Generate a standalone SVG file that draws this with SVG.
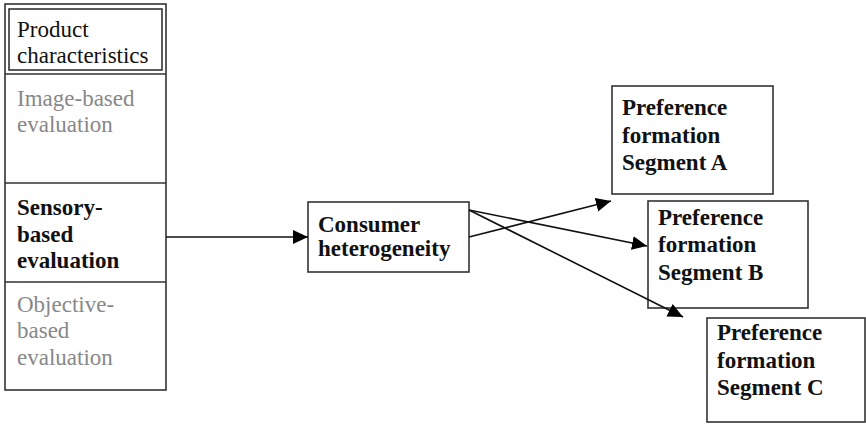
<svg xmlns="http://www.w3.org/2000/svg" width="866" height="424" viewBox="0 0 866 424">
<style>
.box{fill:#fff;stroke:#333;stroke-width:1.6}
.div{stroke:#333;stroke-width:1.6}
.t{font-family:"Liberation Serif","Times New Roman",serif;font-size:23px;fill:#111}
.b{font-weight:bold}
.g{fill:#888}
.c{stroke:#111;stroke-width:1.6;fill:none}
</style>
<defs>
<marker id="ah" markerUnits="userSpaceOnUse" markerWidth="16" markerHeight="16" viewBox="0 0 16 16" refX="15" refY="8" orient="auto">
<path d="M0,1 L15,8 L0,15 Z" fill="#000"/>
</marker>
</defs>
<g id="product-column">
<rect class="box" x="5" y="4" width="161" height="386"/>
<rect class="box" x="9" y="9" width="153" height="61" fill="none"/>
<line class="div" x1="5" y1="74" x2="166" y2="74"/>
<line class="div" x1="5" y1="183" x2="166" y2="183"/>
<line class="div" x1="5" y1="282" x2="166" y2="282"/>
<text class="t" x="17" y="37">Product</text>
<text class="t" x="17" y="63">characteristics</text>
<text class="t g" x="17" y="106">Image-based</text>
<text class="t g" x="17" y="132">evaluation</text>
<text class="t b" x="17" y="215">Sensory-</text>
<text class="t b" x="17" y="242">based</text>
<text class="t b" x="17" y="268">evaluation</text>
<text class="t g" x="17" y="312">Objective-</text>
<text class="t g" x="17" y="338">based</text>
<text class="t g" x="17" y="365">evaluation</text>
</g>
<g id="consumer">
<rect class="box" x="308" y="202" width="161" height="70"/>
<text class="t b" x="318" y="232">Consumer</text>
<text class="t b" x="318" y="256">heterogeneity</text>
</g>
<g id="segA">
<rect class="box" x="612" y="86" width="161" height="108"/>
<text class="t b" x="622" y="115">Preference</text>
<text class="t b" x="622" y="143">formation</text>
<text class="t b" x="622" y="170">Segment A</text>
</g>
<g id="segB">
<rect class="box" x="648" y="201" width="160" height="107"/>
<text class="t b" x="658" y="225">Preference</text>
<text class="t b" x="658" y="252">formation</text>
<text class="t b" x="658" y="280">Segment B</text>
</g>
<g id="segC">
<rect class="box" x="707" y="318" width="158" height="104"/>
<text class="t b" x="717" y="340">Preference</text>
<text class="t b" x="717" y="368">formation</text>
<text class="t b" x="717" y="395">Segment C</text>
</g>
<g id="connectors">
<line class="c" x1="166" y1="237" x2="308" y2="237" marker-end="url(#ah)"/>
<line class="c" x1="469" y1="237" x2="611" y2="201" marker-end="url(#ah)"/>
<line class="c" x1="469" y1="210" x2="647" y2="246" marker-end="url(#ah)"/>
<line class="c" x1="469" y1="210" x2="683" y2="317" marker-end="url(#ah)"/>
</g>
</svg>
